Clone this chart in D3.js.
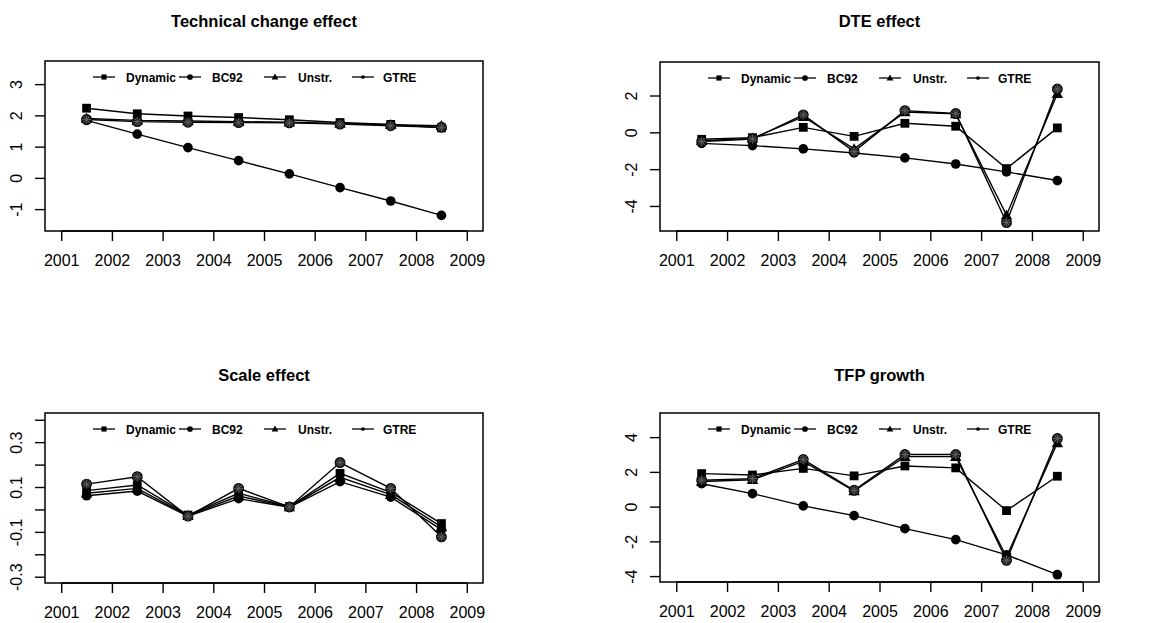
<!DOCTYPE html>
<html>
<head>
<meta charset="utf-8">
<script src="https://cdn.jsdelivr.net/npm/d3@7"></script>
<style>
  body { margin: 0; background: #fff; }
  svg { display: block; font-family: "Liberation Sans", Arial, sans-serif; }
</style>
</head>
<body>
<svg id="chart" width="1161" height="623"></svg>
<script>
// x positions of the observations and the year ticks
const years = [2001.5, 2002.5, 2003.5, 2004.5, 2005.5, 2006.5, 2007.5, 2008.5];
const yearTicks = [2001, 2002, 2003, 2004, 2005, 2006, 2007, 2008, 2009];
const seriesNames = ["Dynamic", "BC92", "Unstr.", "GTRE"];

// Technical change effect
const techDynamic = [2.23, 2.05, 1.98, 1.93, 1.86, 1.77, 1.71, 1.6];
const techBC92 = [1.84, 1.4, 0.97, 0.55, 0.13, -0.31, -0.74, -1.2];
const techUnstr = [1.9, 1.84, 1.82, 1.8, 1.78, 1.74, 1.7, 1.67];
const techGTRE = [1.87, 1.8, 1.78, 1.77, 1.76, 1.72, 1.67, 1.62];

// DTE effect
const dteDynamic = [-0.38, -0.29, 0.27, -0.22, 0.49, 0.33, -1.97, 0.24];
const dteBC92 = [-0.6, -0.72, -0.9, -1.12, -1.39, -1.72, -2.15, -2.62];
const dteUnstr = [-0.45, -0.33, 0.85, -0.9, 1.1, 1.0, -4.5, 2.1];
const dteGTRE = [-0.5, -0.36, 0.95, -1.05, 1.18, 1.02, -4.9, 2.35];

// Scale effect
const scaleDynamic = [0.084, 0.109, -0.025, 0.072, 0.012, 0.161, 0.076, -0.063];
const scaleBC92 = [0.061, 0.082, -0.03, 0.048, 0.01, 0.124, 0.055, -0.09];
const scaleUnstr = [0.072, 0.094, -0.028, 0.06, 0.011, 0.143, 0.066, -0.078];
const scaleGTRE = [0.113, 0.146, -0.03, 0.094, 0.011, 0.209, 0.094, -0.122];

// TFP growth
const tfpDynamic = [1.9, 1.82, 2.2, 1.77, 2.34, 2.23, -0.23, 1.75];
const tfpBC92 = [1.32, 0.75, 0.04, -0.52, -1.27, -1.9, -2.78, -3.92];
const tfpUnstr = [1.45, 1.55, 2.6, 0.9, 2.88, 2.88, -2.9, 3.67];
const tfpGTRE = [1.52, 1.61, 2.71, 0.94, 3.0, 3.0, -3.09, 3.92];

const panels = [
  { title: "Technical change effect", box: [45, 61, 483, 231], yDomain: [-1.7, 3.74],
    yTicks: [-1, 0, 1, 2, 3], yLabels: ["-1", "0", "1", "2", "3"],
    series: [techDynamic, techBC92, techUnstr, techGTRE], titleY: 27 },
  { title: "DTE effect", box: [660, 62, 1099, 231], yDomain: [-5.36, 3.82],
    yTicks: [-4, -2, 0, 2], yLabels: ["-4", "-2", "0", "2"],
    series: [dteDynamic, dteBC92, dteUnstr, dteGTRE], titleY: 27 },
  { title: "Scale effect", box: [45, 413, 483, 583], yDomain: [-0.328, 0.43],
    yTicks: [-0.3, -0.2, -0.1, 0, 0.1, 0.2, 0.3, 0.4], yLabels: ["-0.3", "", "-0.1", "", "0.1", "", "0.3", ""],
    series: [scaleDynamic, scaleBC92, scaleUnstr, scaleGTRE], titleY: 381 },
  { title: "TFP growth", box: [660, 413, 1099, 582], yDomain: [-4.34, 5.39],
    yTicks: [-4, -2, 0, 2, 4], yLabels: ["-4", "-2", "0", "2", "4"],
    series: [tfpDynamic, tfpBC92, tfpUnstr, tfpGTRE], titleY: 381 }
];

const svg = d3.select("#chart");

function drawMarker(g, kind, x, y, s) {
  if (kind === 0) {
    g.append("rect").attr("x", x - s).attr("y", y - s)
      .attr("width", 2 * s).attr("height", 2 * s).attr("fill", "#000");
  } else if (kind === 1) {
    g.append("circle").attr("cx", x).attr("cy", y).attr("r", s * 1.1).attr("fill", "#000");
  } else if (kind === 2) {
    const h = s * 1.3;
    g.append("path")
      .attr("d", `M${x},${y - h}L${x + h},${y + h * 0.75}L${x - h},${y + h * 0.75}Z`)
      .attr("fill", "#000");
  } else {
    const r = s * 1.1;
    g.append("circle").attr("cx", x).attr("cy", y).attr("r", r)
      .attr("fill", "#222").attr("stroke", "#000").attr("stroke-width", 1.2);
    g.append("path")
      .attr("d", `M${x - r},${y}H${x + r}M${x},${y - r}V${y + r}M${x - r * 0.7},${y - r * 0.7}L${x + r * 0.7},${y + r * 0.7}M${x - r * 0.7},${y + r * 0.7}L${x + r * 0.7},${y - r * 0.7}`)
      .attr("stroke", "#666").attr("stroke-width", 0.8);
  }
}

panels.forEach((p) => {
  const [x0, y0, x1, y1] = p.box;
  const x = d3.scaleLinear().domain([2000.68, 2009.32]).range([x0, x1]);
  const y = d3.scaleLinear().domain(p.yDomain).range([y1, y0]);
  const g = svg.append("g");

  // title
  g.append("text")
    .attr("x", (x0 + x1) / 2)
    .attr("y", p.titleY)
    .attr("text-anchor", "middle")
    .attr("font-size", 16.5)
    .attr("font-weight", "bold")
    .text(p.title);

  // x axis
  const xAxis = g.append("g")
    .attr("transform", `translate(0,${y1})`)
    .call(d3.axisBottom(x).tickValues(yearTicks).tickFormat(d3.format("d")).tickSize(10).tickPadding(14));
  xAxis.select(".domain").attr("d", `M${x(2001)},0H${x(2009)}`).attr("stroke-width", 1.4);
  xAxis.selectAll(".tick line").attr("stroke-width", 1.4);
  xAxis.selectAll("text").attr("font-size", 16).attr("fill", "#000");

  // y axis
  const yAxis = g.append("g")
    .attr("transform", `translate(${x0},0)`)
    .call(d3.axisLeft(y).tickValues(p.yTicks).tickFormat((d, i) => p.yLabels[i]).tickSize(10));
  yAxis.select(".domain").remove();
  yAxis.selectAll(".tick line").attr("stroke-width", 1.4);
  yAxis.selectAll(".tick text")
    .attr("x", null).attr("dy", null)
    .attr("transform", "translate(-23,0) rotate(-90)")
    .attr("text-anchor", "middle")
    .attr("font-size", 16)
    .attr("fill", "#000");

  // plot box
  g.append("rect")
    .attr("x", x0).attr("y", y0)
    .attr("width", x1 - x0).attr("height", y1 - y0)
    .attr("fill", "none").attr("stroke", "#000").attr("stroke-width", 1.5);

  // lines and markers
  const line = d3.line().x((d, i) => x(years[i])).y((d) => y(d));
  p.series.forEach((vals) => {
    g.append("path")
      .datum(vals)
      .attr("d", line)
      .attr("fill", "none")
      .attr("stroke", "#000")
      .attr("stroke-width", 1.4);
  });
  p.series.forEach((vals, k) => {
    vals.forEach((v, i) => drawMarker(g, k, x(years[i]), y(v), 4.4));
  });

  // legend
  const ly = y0 + 16;
  const legendOffsets = [48, 134, 219, 307];
  const textOffsets = [81, 167, 253, 338];
  seriesNames.forEach((name, k) => {
    const lx = x0 + legendOffsets[k];
    g.append("line")
      .attr("x1", lx).attr("x2", lx + 22)
      .attr("y1", ly).attr("y2", ly)
      .attr("stroke", "#000").attr("stroke-width", 1.3);
    drawMarker(g, k === 3 ? 1 : k, lx + 11, ly, k === 3 ? 1.7 : 2.6);
    g.append("text")
      .attr("x", x0 + textOffsets[k])
      .attr("y", ly + 4.5)
      .attr("font-size", 12)
      .attr("font-weight", "bold")
      .text(name);
  });
});
</script>
</body>
</html>
